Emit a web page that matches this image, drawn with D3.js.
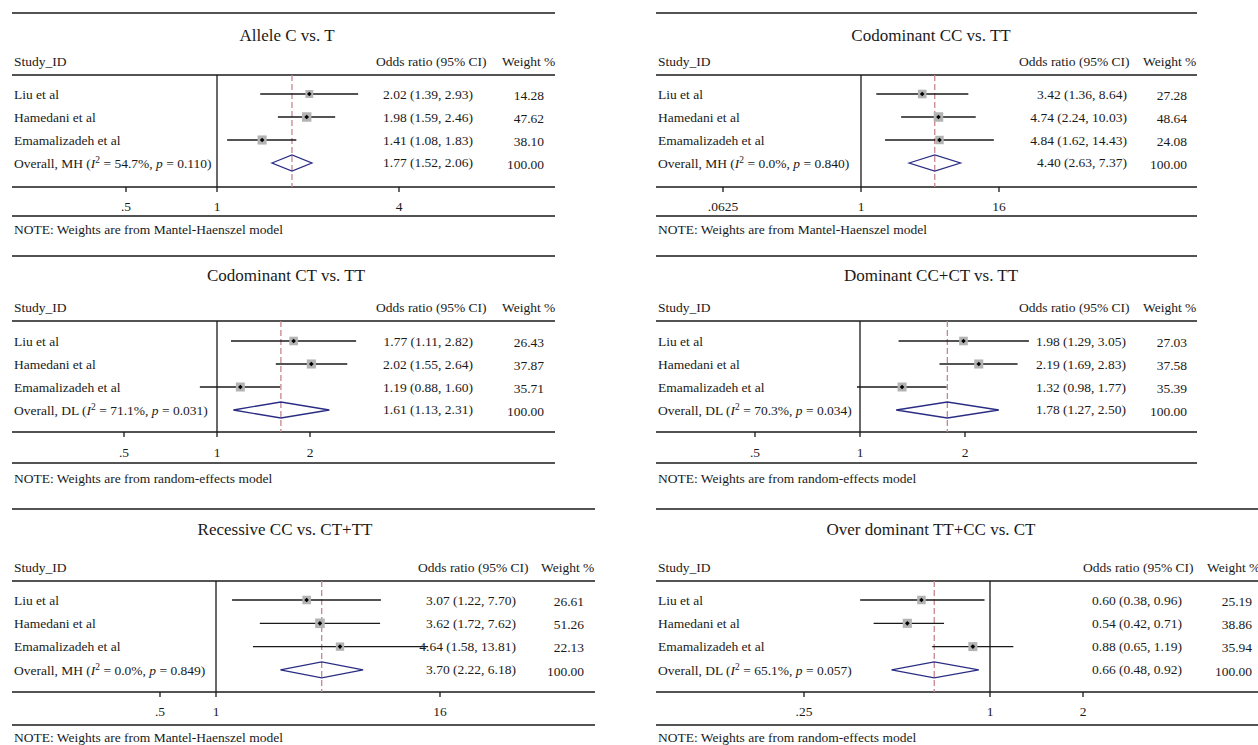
<!DOCTYPE html>
<html>
<head>
<meta charset="utf-8">
<script src="https://cdn.jsdelivr.net/npm/d3@7"></script>
<style>
  body { margin: 0; background: #fff; }
  svg { font-family: "Liberation Serif", "Times New Roman", "DejaVu Serif", serif; }
  text { fill: #1a1a1a; }
</style>
</head>
<body>
<svg id="chart" width="1258" height="745"></svg>
<script>
// ---- data ----
const studies = ["Liu et al", "Hamedani et al", "Emamalizadeh et al"];
const panelTitles = ["Allele C vs. T", "Codominant CC vs. TT", "Codominant CT vs. TT",
    "Dominant CC+CT vs. TT", "Recessive CC vs. CT+TT", "Over dominant TT+CC vs. CT"];
const oddsRatios = [[2.02, 1.98, 1.41], [3.42, 4.74, 4.84], [1.77, 2.02, 1.19],
    [1.98, 2.19, 1.32], [3.07, 3.62, 4.64], [0.60, 0.54, 0.88]];
const ciLower = [[1.39, 1.59, 1.08], [1.36, 2.24, 1.62], [1.11, 1.55, 0.88],
    [1.29, 1.69, 0.98], [1.22, 1.72, 1.58], [0.38, 0.42, 0.65]];
const ciUpper = [[2.93, 2.46, 1.83], [8.64, 10.03, 14.43], [2.82, 2.64, 1.60],
    [3.05, 2.83, 1.77], [7.70, 7.62, 13.81], [0.96, 0.71, 1.19]];
const weights = [[14.28, 47.62, 38.10], [27.28, 48.64, 24.08], [26.43, 37.87, 35.71],
    [27.03, 37.58, 35.39], [26.61, 51.26, 22.13], [25.19, 38.86, 35.94]];
const pooledOR = [1.77, 4.40, 1.61, 1.78, 3.70, 0.66];
const pooledLower = [1.52, 2.63, 1.13, 1.27, 2.22, 0.48];
const pooledUpper = [2.06, 7.37, 2.31, 2.50, 6.18, 0.92];
const methods = ["MH", "MH", "DL", "DL", "MH", "DL"];
const iSquared = ["54.7", "0.0", "71.1", "70.3", "0.0", "65.1"];
const pValues = ["0.110", "0.840", "0.031", "0.034", "0.849", "0.057"];
const tickValues = [[0.5, 1, 4], [0.0625, 1, 16], [0.5, 1, 2], [0.5, 1, 2], [0.5, 1, 16], [0.25, 1, 2]];
const tickLabels = [[".5", "1", "4"], [".0625", "1", "16"], [".5", "1", "2"], [".5", "1", "2"], [".5", "1", "16"], [".25", "1", "2"]];
const notes = ["Mantel-Haenszel model", "Mantel-Haenszel model", "random-effects model",
    "random-effects model", "Mantel-Haenszel model", "random-effects model"];

// ---- layout ----
const rowsY = [
    {top: 13, title: 35, head: 61, hline: 75, first: 94, step: 23, axis: 187, tick: 206, bottom: 216, note: 229},
    {top: 256, title: 275, head: 307, hline: 321, first: 341, step: 23, axis: 432, tick: 452, bottom: 463, note: 478},
    {top: 509, title: 529, head: 567, hline: 581, first: 600, step: 23.3, axis: 692, tick: 711, bottom: 725, note: 737}
];
const boxes = [
    {left: 12, right: 555, titleX: 287, orHead: 376, wHead: 502, orRight: 473, wRight: 544, one: 217, ppo: 91, row: 0},
    {left: 656, right: 1197, titleX: 931, orHead: 1019, wHead: 1143, orRight: 1127, wRight: 1187, one: 861, ppo: 34.5, row: 0},
    {left: 12, right: 555, titleX: 286, orHead: 376, wHead: 502, orRight: 473, wRight: 544, one: 217, ppo: 93, row: 1},
    {left: 656, right: 1197, titleX: 931, orHead: 1019, wHead: 1143, orRight: 1126, wRight: 1187, one: 860, ppo: 105, row: 1},
    {left: 12, right: 595, titleX: 285, orHead: 418, wHead: 541, orRight: 516, wRight: 584, one: 216, ppo: 56, row: 2},
    {left: 656, right: 1262, titleX: 931, orHead: 1083, wHead: 1207, orRight: 1182, wRight: 1252, one: 990, ppo: 93, row: 2}
];

const svg = d3.select("#chart");
const f2 = d3.format(".2f");
const ruleColor = "#1a1a1a";
const fs = "13.5px";

boxes.forEach((b, p) => {
    const ry = rowsY[b.row];
    const g = svg.append("g");
    const x = d3.scaleLog().base(2).domain([1, 2]).range([b.one, b.one + b.ppo]);
    const rowY = i => ry.first + i * ry.step;

    // rules
    [ry.top, ry.hline, ry.axis, ry.bottom].forEach(yy => {
        g.append("line")
            .attr("x1", b.left).attr("x2", b.right)
            .attr("y1", yy).attr("y2", yy)
            .attr("stroke", ruleColor).attr("stroke-width", 1.5);
    });

    // title and header
    g.append("text").attr("x", b.titleX).attr("y", ry.title).attr("dy", "0.35em")
        .attr("text-anchor", "middle").style("font-size", "17px").text(panelTitles[p]);
    g.append("text").attr("x", b.left + 2).attr("y", ry.head).attr("dy", "0.35em")
        .style("font-size", fs).text("Study_ID");
    g.append("text").attr("x", b.orHead).attr("y", ry.head).attr("dy", "0.35em")
        .style("font-size", fs).text("Odds ratio (95% CI)");
    g.append("text").attr("x", b.wHead).attr("y", ry.head).attr("dy", "0.35em")
        .style("font-size", fs).text("Weight %");

    // null line at OR = 1 and dashed pooled line
    g.append("line")
        .attr("x1", x(1)).attr("x2", x(1)).attr("y1", ry.hline).attr("y2", ry.axis)
        .attr("stroke", ruleColor).attr("stroke-width", 1.3);
    g.append("line")
        .attr("x1", x(pooledOR[p])).attr("x2", x(pooledOR[p])).attr("y1", ry.hline).attr("y2", ry.axis)
        .attr("stroke", "#c7868e").attr("stroke-width", 1.3).attr("stroke-dasharray", "6,3");

    // axis ticks
    tickValues[p].forEach((t, k) => {
        g.append("line").attr("x1", x(t)).attr("x2", x(t))
            .attr("y1", ry.axis).attr("y2", ry.axis + 5)
            .attr("stroke", ruleColor).attr("stroke-width", 1.3);
        g.append("text").attr("x", x(t)).attr("y", ry.tick).attr("dy", "0.35em")
            .attr("text-anchor", "middle").style("font-size", fs).text(tickLabels[p][k]);
    });

    // studies
    studies.forEach((s, i) => {
        const yy = rowY(i);
        g.append("text").attr("x", b.left + 2).attr("y", yy).attr("dy", "0.35em")
            .style("font-size", fs).text(s);
        g.append("line")
            .attr("x1", x(ciLower[p][i])).attr("x2", x(ciUpper[p][i]))
            .attr("y1", yy).attr("y2", yy)
            .attr("stroke", ruleColor).attr("stroke-width", 1.3);
        const side = 6 + Math.sqrt(weights[p][i]) * 0.5;
        g.append("rect")
            .attr("x", x(oddsRatios[p][i]) - side / 2).attr("y", yy - side / 2)
            .attr("width", side).attr("height", side)
            .attr("fill", "#b3b3b3");
        g.append("path")
            .attr("d", d3.symbol().type(d3.symbolDiamond2).size(14))
            .attr("transform", `translate(${x(oddsRatios[p][i])},${yy})`)
            .attr("fill", "#000");
        g.append("text").attr("x", b.orRight).attr("y", yy).attr("dy", "0.35em")
            .attr("text-anchor", "end").style("font-size", fs)
            .text(`${f2(oddsRatios[p][i])} (${f2(ciLower[p][i])}, ${f2(ciUpper[p][i])})`);
        g.append("text").attr("x", b.wRight).attr("y", yy + 1).attr("dy", "0.35em")
            .attr("text-anchor", "end").style("font-size", fs).text(f2(weights[p][i]));
    });

    // overall row
    const oy = rowY(3);
    const lab = g.append("text").attr("x", b.left + 2).attr("y", oy).attr("dy", "0.35em")
        .style("font-size", fs);
    lab.append("tspan").text(`Overall, ${methods[p]} (`);
    lab.append("tspan").style("font-style", "italic").text("I");
    lab.append("tspan").attr("dy", "-5").style("font-size", "9.5px").text("2");
    lab.append("tspan").attr("dy", "5").text(` = ${iSquared[p]}%, `);
    lab.append("tspan").style("font-style", "italic").text("p");
    lab.append("tspan").text(` = ${pValues[p]})`);

    const hx = 8;
    g.append("path")
        .attr("d", `M${x(pooledLower[p])},${oy} L${x(pooledOR[p])},${oy - hx} L${x(pooledUpper[p])},${oy} L${x(pooledOR[p])},${oy + hx} Z`)
        .attr("fill", "none").attr("stroke", "#2b2d84").attr("stroke-width", 1.3);
    g.append("text").attr("x", b.orRight).attr("y", oy - 1).attr("dy", "0.35em")
        .attr("text-anchor", "end").style("font-size", fs)
        .text(`${f2(pooledOR[p])} (${f2(pooledLower[p])}, ${f2(pooledUpper[p])})`);
    g.append("text").attr("x", b.wRight).attr("y", oy + 1).attr("dy", "0.35em")
        .attr("text-anchor", "end").style("font-size", fs).text("100.00");

    // note
    g.append("text").attr("x", b.left + 2).attr("y", ry.note).attr("dy", "0.35em")
        .style("font-size", fs).text("NOTE: Weights are from " + notes[p]);
});
</script>
</body>
</html>
